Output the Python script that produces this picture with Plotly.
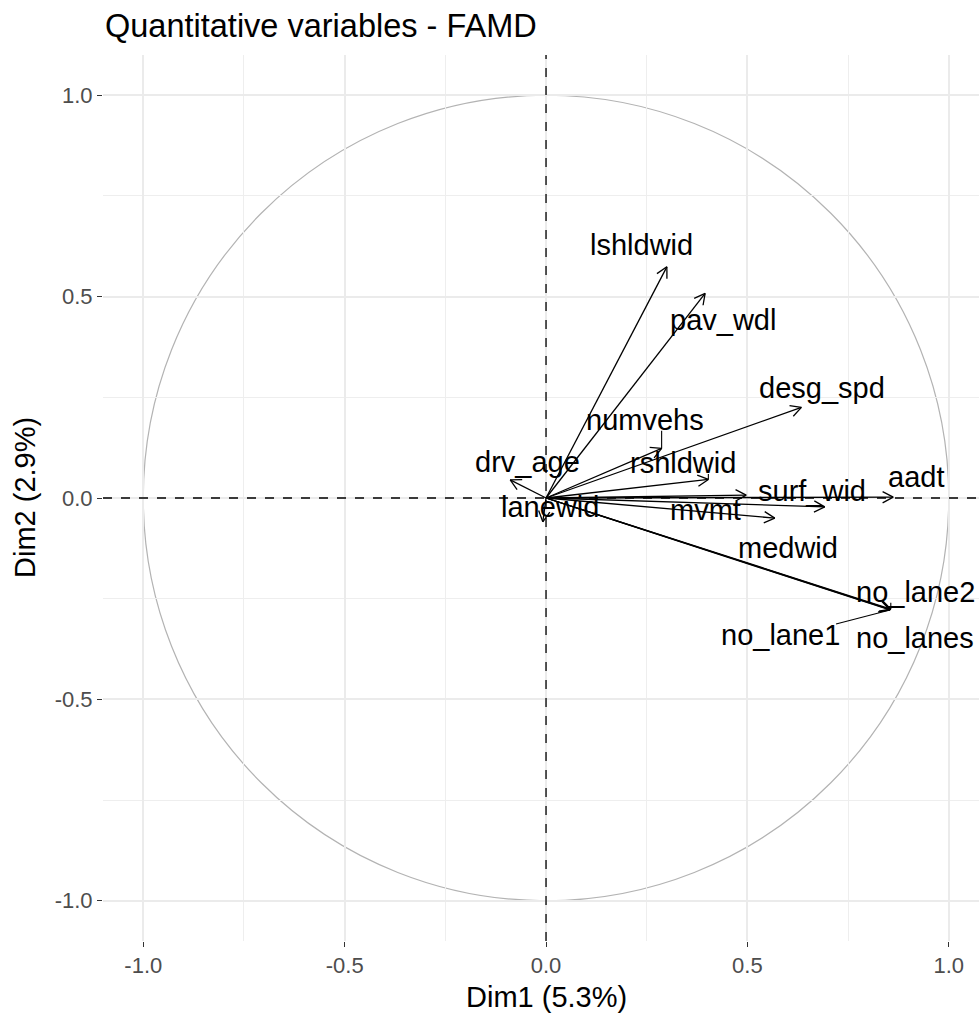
import math
import plotly.graph_objects as go

# ---- data ----
variables = ["lshldwid", "pav_wdl", "desg_spd", "numvehs", "rshldwid", "drv_age", "lanewid",
             "surf_wid", "aadt", "mvmt", "medwid", "no_lane2", "no_lane1", "no_lanes"]
dim1 = [0.300, 0.395, 0.634, 0.287, 0.403, -0.089, -0.008,
        0.692, 0.862, 0.497, 0.568, 0.856, 0.854, 0.855]
dim2 = [0.574, 0.508, 0.225, 0.123, 0.046, 0.045, -0.059,
        -0.022, 0.002, 0.007, -0.050, -0.276, -0.278, -0.277]
tick_vals = [-1.0, -0.5, 0.0, 0.5, 1.0]
tick_text = ["-1.0", "-0.5", "0.0", "0.5", "1.0"]

# ---- repelled label layout (data units) ----
label_x = [0.236, 0.439, 0.685, 0.246, 0.340, -0.045, 0.010,
           0.660, 0.918, 0.395, 0.600, 0.918, 0.581, 0.916]
label_y = [0.628, 0.442, 0.273, 0.194, 0.087, 0.089, -0.022,
           0.017, 0.052, -0.030, -0.124, -0.233, -0.340, -0.347]
with_segment = {"numvehs", "rshldwid", "no_lane1", "no_lane2"}

FONT = "Liberation Sans, Arial, sans-serif"
W, H = 979, 1016
ML, MR, MT = 103, 0, 55
XR = [-1.1, 1.075]
YR = [-1.1, 1.1]
pw = W - ML - MR
ph = 886
MB = H - MT - ph
sx = pw / (XR[1] - XR[0])
sy = ph / (YR[1] - YR[0])

fig = go.Figure()

# arrows: shaft + open head
L = 12.0  # px
ang = math.radians(28)
for v, x, y in zip(variables, dim1, dim2):
    xs = [0, x, None]
    ys = [0, y, None]
    dx, dy = x * sx, y * sy
    th = math.atan2(dy, dx)
    for s in (1, -1):
        a = th + math.pi + s * ang
        xs += [x, x + L * math.cos(a) / sx, None]
        ys += [y, y + L * math.sin(a) / sy, None]
    fig.add_trace(go.Scatter(x=xs, y=ys, mode="lines",
                             line=dict(color="black", width=1.3),
                             hoverinfo="skip", showlegend=False))

# repel segments: from arrow head to nearest point of label box
for v, x, y, lx, ly in zip(variables, dim1, dim2, label_x, label_y):
    if v not in with_segment:
        continue
    hw = len(v) * 7.0 / sx
    hh = 11.0 / sy
    nx = min(max(x, lx - hw), lx + hw)
    ny = min(max(y, ly - hh), ly + hh)
    fig.add_trace(go.Scatter(x=[x, nx], y=[y, ny], mode="lines",
                             line=dict(color="black", width=1.1),
                             hoverinfo="skip", showlegend=False))

for v, lx, ly in zip(variables, label_x, label_y):
    fig.add_annotation(x=lx, y=ly, text=v, showarrow=False,
                       font=dict(family=FONT, size=29, color="black"),
                       xanchor="center", yanchor="middle")

# circle and dashed reference lines
fig.add_shape(type="circle", xref="x", yref="y", x0=-1, y0=-1, x1=1, y1=1,
              line=dict(color="#B3B3B3", width=1.2), layer="below")
fig.add_shape(type="line", xref="x", yref="paper", x0=0, x1=0, y0=0, y1=1,
              line=dict(color="black", width=1.3, dash="dash"))
fig.add_shape(type="line", xref="paper", yref="y", x0=0, x1=1, y0=0, y1=0,
              line=dict(color="black", width=1.3, dash="dash"))

axis_common = dict(
    showgrid=True, gridcolor="#EBEBEB", gridwidth=1.6,
    zeroline=False, showline=False,
    ticks="outside", ticklen=5, tickwidth=1.2, tickcolor="#333333",
    tickfont=dict(family=FONT, size=22, color="#4D4D4D"),
    tickvals=tick_vals, ticktext=tick_text,
    minor=dict(dtick=0.25, tick0=0, showgrid=True, gridcolor="#EEEEEE",
               gridwidth=1.0, ticks=""),
)
fig.update_xaxes(range=XR, **axis_common)
fig.update_yaxes(range=YR, **axis_common)

fig.add_annotation(xref="paper", yref="paper", x=(546 - ML) / pw, y=-56 / ph,
                   text="Dim1 (5.3%)", showarrow=False,
                   font=dict(family=FONT, size=29, color="black"),
                   xanchor="center", yanchor="middle")
fig.add_annotation(xref="paper", yref="paper", x=(25 - ML) / pw, y=0.5,
                   text="Dim2 (2.9%)", showarrow=False, textangle=-90,
                   font=dict(family=FONT, size=29, color="black"),
                   xanchor="center", yanchor="middle")

fig.update_layout(
    width=W, height=H,
    margin=dict(l=ML, r=MR, t=MT, b=MB, autoexpand=False),
    paper_bgcolor="white", plot_bgcolor="white",
    title=dict(text="Quantitative variables - FAMD", xref="container", yref="container",
               x=105 / W, y=1 - 26 / H, xanchor="left", yanchor="middle",
               font=dict(family=FONT, size=32.5, color="black")),
    showlegend=False,
)

fig.write_html("out.html",
               config={"displayModeBar": False},
               post_script="document.body.style.margin='0';document.body.style.overflow='hidden';")
